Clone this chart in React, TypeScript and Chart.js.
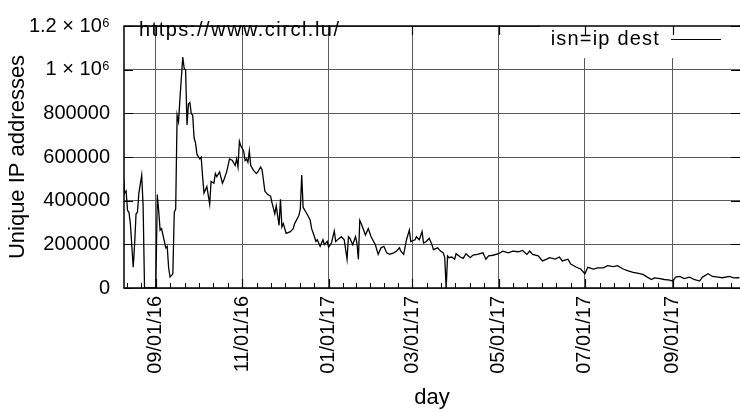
import React, { useEffect, useRef } from "react";
import { Chart, registerables } from "chart.js";

Chart.register(...registerables);

const seriesLabel = "isn=ip dest";
const sourceNote = "https://www.circl.lu/";
const xTitle = "day";
const yTitle = "Unique IP addresses";

const days = [
  "2016-08-09", "2016-08-10", "2016-08-11", "2016-08-12", "2016-08-13", "2016-08-14", "2016-08-16", "2016-08-17",
  "2016-08-18", "2016-08-19", "2016-08-20", "2016-08-22", "2016-08-23", "2016-08-24", "2016-09-01", "2016-09-02",
  "2016-09-03", "2016-09-04", "2016-09-05", "2016-09-06", "2016-09-08", "2016-09-09", "2016-09-10", "2016-09-11",
  "2016-09-13", "2016-09-14", "2016-09-15", "2016-09-16", "2016-09-17", "2016-09-18", "2016-09-20", "2016-09-21",
  "2016-09-22", "2016-09-23", "2016-09-24", "2016-09-25", "2016-09-26", "2016-09-27", "2016-09-28", "2016-09-29",
  "2016-09-30", "2016-10-02", "2016-10-03", "2016-10-04", "2016-10-05", "2016-10-07", "2016-10-09", "2016-10-10",
  "2016-10-12", "2016-10-13", "2016-10-14", "2016-10-16", "2016-10-18", "2016-10-19", "2016-10-21", "2016-10-23",
  "2016-10-25", "2016-10-27", "2016-10-28", "2016-10-29", "2016-10-30", "2016-10-31", "2016-11-02", "2016-11-03",
  "2016-11-04", "2016-11-05", "2016-11-06", "2016-11-07", "2016-11-09", "2016-11-11", "2016-11-12", "2016-11-14",
  "2016-11-15", "2016-11-17", "2016-11-19", "2016-11-21", "2016-11-22", "2016-11-24", "2016-11-25", "2016-11-27",
  "2016-11-28", "2016-11-29", "2016-11-30", "2016-12-02", "2016-12-05", "2016-12-07", "2016-12-08", "2016-12-11",
  "2016-12-12", "2016-12-13", "2016-12-14", "2016-12-16", "2016-12-18", "2016-12-19", "2016-12-20", "2016-12-22",
  "2016-12-23", "2016-12-24", "2016-12-26", "2016-12-28", "2016-12-29", "2016-12-31", "2017-01-01", "2017-01-03",
  "2017-01-05", "2017-01-06", "2017-01-08", "2017-01-10", "2017-01-12", "2017-01-14", "2017-01-15", "2017-01-16",
  "2017-01-18", "2017-01-20", "2017-01-21", "2017-01-22", "2017-01-23", "2017-01-24", "2017-01-27", "2017-01-29",
  "2017-01-31", "2017-02-03", "2017-02-05", "2017-02-07", "2017-02-09", "2017-02-11", "2017-02-13", "2017-02-16",
  "2017-02-18", "2017-02-20", "2017-02-21", "2017-02-23", "2017-02-25", "2017-02-27", "2017-02-28", "2017-03-03",
  "2017-03-04", "2017-03-06", "2017-03-08", "2017-03-09", "2017-03-11", "2017-03-13", "2017-03-15", "2017-03-16",
  "2017-03-19", "2017-03-21", "2017-03-23", "2017-03-24", "2017-03-25", "2017-03-26", "2017-03-27", "2017-03-29",
  "2017-03-31", "2017-04-01", "2017-04-04", "2017-04-06", "2017-04-08", "2017-04-11", "2017-04-13", "2017-04-16",
  "2017-04-20", "2017-04-22", "2017-04-24", "2017-04-27", "2017-05-01", "2017-05-04", "2017-05-08", "2017-05-11",
  "2017-05-15", "2017-05-18", "2017-05-21", "2017-05-23", "2017-05-25", "2017-05-29", "2017-06-01", "2017-06-04",
  "2017-06-06", "2017-06-10", "2017-06-13", "2017-06-15", "2017-06-19", "2017-06-21", "2017-06-25", "2017-06-28",
  "2017-07-01", "2017-07-03", "2017-07-07", "2017-07-10", "2017-07-14", "2017-07-17", "2017-07-21", "2017-07-24",
  "2017-07-28", "2017-07-31", "2017-08-04", "2017-08-07", "2017-08-11", "2017-08-14", "2017-08-17", "2017-08-19",
  "2017-08-23", "2017-08-26", "2017-08-30", "2017-09-01", "2017-09-03", "2017-09-06", "2017-09-09", "2017-09-13",
  "2017-09-16", "2017-09-20", "2017-09-22", "2017-09-26", "2017-09-29", "2017-10-03", "2017-10-06", "2017-10-11",
  "2017-10-14", "2017-10-18",
];

const uniqueIPs = [
  510000, 435000, 444000, 355000, 347000, 295000, 95000, 200000,
  339000, 347000, 435000, 517000, 376000, 0, 0, 428000,
  354000, 265000, 272000, 243000, 184000, 191000, 95000, 50000,
  65000, 347000, 361000, 791000, 761000, 865000, 1058000, 1006000,
  998000, 747000, 843000, 850000, 799000, 791000, 688000, 665000,
  613000, 591000, 599000, 510000, 435000, 465000, 384000, 488000,
  480000, 524000, 510000, 532000, 480000, 495000, 532000, 591000,
  584000, 561000, 591000, 554000, 672000, 650000, 628000, 584000,
  591000, 576000, 628000, 561000, 539000, 524000, 532000, 554000,
  542000, 443000, 428000, 421000, 391000, 339000, 376000, 287000,
  406000, 280000, 295000, 250000, 258000, 272000, 295000, 332000,
  361000, 517000, 369000, 347000, 324000, 310000, 272000, 235000,
  213000, 221000, 191000, 221000, 198000, 213000, 187000, 206000,
  261000, 213000, 225000, 235000, 221000, 132000, 235000, 228000,
  198000, 235000, 206000, 132000, 310000, 295000, 243000, 272000,
  235000, 198000, 154000, 184000, 191000, 161000, 154000, 161000,
  169000, 184000, 169000, 154000, 221000, 265000, 213000, 221000,
  235000, 221000, 258000, 206000, 213000, 228000, 198000, 176000,
  184000, 169000, 161000, 139000, 0, 147000, 139000, 142000,
  132000, 157000, 142000, 136000, 157000, 139000, 151000, 154000,
  161000, 132000, 147000, 150000, 157000, 169000, 161000, 169000,
  166000, 172000, 154000, 169000, 154000, 147000, 124000, 132000,
  139000, 132000, 142000, 124000, 132000, 110000, 95000, 87000,
  65000, 95000, 87000, 92000, 92000, 102000, 98000, 102000,
  87000, 80000, 72000, 68000, 62000, 50000, 39000, 46000,
  43000, 39000, 36000, 31000, 50000, 53000, 43000, 50000,
  39000, 32000, 50000, 65000, 53000, 50000, 47000, 53000,
  46000, 47000,
];

const xTickDates = ["2016-09-01", "2016-11-01", "2017-01-01", "2017-03-01", "2017-05-01", "2017-07-01", "2017-09-01"];
const xStart = "2016-08-09T12:00:00Z";
const xEnd = "2017-10-18T12:00:00Z";
const yTickValues = [0, 200000, 400000, 600000, 800000, 1000000, 1200000];

const FONT = "'Liberation Sans', Arial, sans-serif";

const toMs = (s: string) => {
  const [y, m, d] = s.split("-").map(Number);
  return Date.UTC(y, m - 1, d);
};
const fmtDate = (ms: number) => {
  const dt = new Date(ms);
  const mm = String(dt.getUTCMonth() + 1).padStart(2, "0");
  const dd = String(dt.getUTCDate()).padStart(2, "0");
  const yy = String(dt.getUTCFullYear() % 100).padStart(2, "0");
  return `${mm}/${dd}/${yy}`;
};
const fmtY = (v: number) => {
  if (v === 1200000) return "1.2 \u00d7 10\u2076";
  if (v === 1000000) return "1 \u00d7 10\u2076";
  return String(v);
};

const decor = {
  id: "decor",
  afterDatasetsDraw(chart: any) {
    const { ctx, chartArea: a, scales } = chart;
    const xs = scales.x;
    const ys = scales.y;
    ctx.save();
    // opaque key box
    ctx.fillStyle = "#ffffff";
    ctx.fillRect(540, a.top, a.right - 540, 32);
    // key text + sample
    ctx.fillStyle = "#000";
    ctx.font = `20px ${FONT}`;
    (ctx as any).letterSpacing = "1.2px";
    ctx.textAlign = "right";
    ctx.textBaseline = "alphabetic";
    ctx.fillText(seriesLabel, 660, 45);
    ctx.strokeStyle = "#000";
    ctx.lineWidth = 1.2;
    ctx.beginPath();
    ctx.moveTo(671, 39.5);
    ctx.lineTo(721, 39.5);
    ctx.stroke();
    // source note
    (ctx as any).letterSpacing = "1.5px";
    ctx.textAlign = "left";
    ctx.fillText(sourceNote, 139, 36);
    (ctx as any).letterSpacing = "0px";
    // frame
    ctx.lineWidth = 1.5;
    ctx.beginPath();
    ctx.moveTo(a.right, a.top);
    ctx.lineTo(a.left, a.top);
    ctx.lineTo(a.left, a.bottom);
    ctx.lineTo(a.right, a.bottom);
    ctx.stroke();
    // major ticks (inward, mirrored)
    ctx.lineWidth = 1.2;
    ctx.beginPath();
    const majors = xs.ticks.map((t: any) => t.value);
    majors.forEach((v: number) => {
      const px = Math.round(xs.getPixelForValue(v)) + 0.5;
      ctx.moveTo(px, a.bottom);
      ctx.lineTo(px, a.bottom - 9);
      ctx.moveTo(px, a.top);
      ctx.lineTo(px, a.top + 9);
    });
    ys.ticks.forEach((t: any) => {
      const py = Math.round(ys.getPixelForValue(t.value)) + 0.5;
      ctx.moveTo(a.left, py);
      ctx.lineTo(a.left + 9, py);
      ctx.moveTo(a.right, py);
      ctx.lineTo(a.right - 9, py);
    });
    ctx.stroke();
    // minor ticks: six per major interval
    ctx.lineWidth = 1;
    ctx.beginPath();
    const step0 = (majors[1] - majors[0]) / 6;
    const stepN = (majors[majors.length - 1] - majors[majors.length - 2]) / 6;
    const minors: number[] = [];
    for (let v = majors[0] - step0; v >= xs.min; v -= step0) minors.push(v);
    for (let i = 0; i < majors.length - 1; i++) {
      const st = (majors[i + 1] - majors[i]) / 6;
      for (let k = 1; k < 6; k++) minors.push(majors[i] + k * st);
    }
    for (let v = majors[majors.length - 1] + stepN; v <= xs.max; v += stepN) minors.push(v);
    minors.forEach((v) => {
      const px = Math.round(xs.getPixelForValue(v)) + 0.5;
      ctx.moveTo(px, a.bottom);
      ctx.lineTo(px, a.bottom - 5);
    });
    ctx.stroke();
    ctx.restore();
  },
};

export default function App() {
  const ref = useRef<HTMLCanvasElement | null>(null);
  useEffect(() => {
    if (!ref.current) return;
    const points = days.map((d, i) => ({ x: toMs(d), y: uniqueIPs[i] }));
    const chart = new Chart(ref.current, {
      type: "line",
      data: {
        datasets: [
          {
            label: seriesLabel,
            data: points,
            borderColor: "#000",
            borderWidth: 1.3,
            pointRadius: 0,
            tension: 0,
            fill: false,
          },
        ],
      },
      options: {
        animation: false,
        responsive: false,
        layout: { padding: { left: 0, right: 0, top: 18, bottom: 0 } },
        plugins: { legend: { display: false }, tooltip: { enabled: false } },
        scales: {
          x: {
            type: "linear",
            min: Date.parse(xStart),
            max: Date.parse(xEnd),
            afterBuildTicks: (s: any) => {
              s.ticks = xTickDates.map((d) => ({ value: toMs(d) }));
            },
            afterFit: (s: any) => {
              s.height = 124;
            },
            grid: { color: "#5a5a5a", lineWidth: 1, drawTicks: false },
            border: { display: false },
            ticks: {
              autoSkip: false,
              maxRotation: 90,
              minRotation: 90,
              padding: 8,
              color: "#000",
              font: { family: FONT, size: 20 },
              callback: (v: any) => fmtDate(Number(v)),
            },
            title: {
              display: true,
              text: xTitle,
              color: "#000",
              font: { family: FONT, size: 22 },
              padding: { top: 0, bottom: 1 },
            },
          },
          y: {
            min: 0,
            max: 1200000,
            afterBuildTicks: (s: any) => {
              s.ticks = yTickValues.map((v) => ({ value: v }));
            },
            afterFit: (s: any) => {
              s.width = 124;
            },
            grid: { color: "#5a5a5a", lineWidth: 1, drawTicks: false },
            border: { display: false },
            ticks: {
              padding: 14,
              color: "#000",
              font: { family: FONT, size: 20 },
              callback: (v: any) => fmtY(Number(v)),
            },
            title: {
              display: true,
              text: yTitle,
              color: "#000",
              font: { family: FONT, size: 22 },
              padding: { top: 5, bottom: 0 },
            },
          },
        },
      },
      plugins: [decor],
    });
    return () => chart.destroy();
  }, []);
  return (
    <div style={{ position: "fixed", left: 0, top: 0, width: 740, height: 412, background: "#fff" }}>
      <canvas ref={ref} width={740} height={412} style={{ display: "block" }} />
    </div>
  );
}
